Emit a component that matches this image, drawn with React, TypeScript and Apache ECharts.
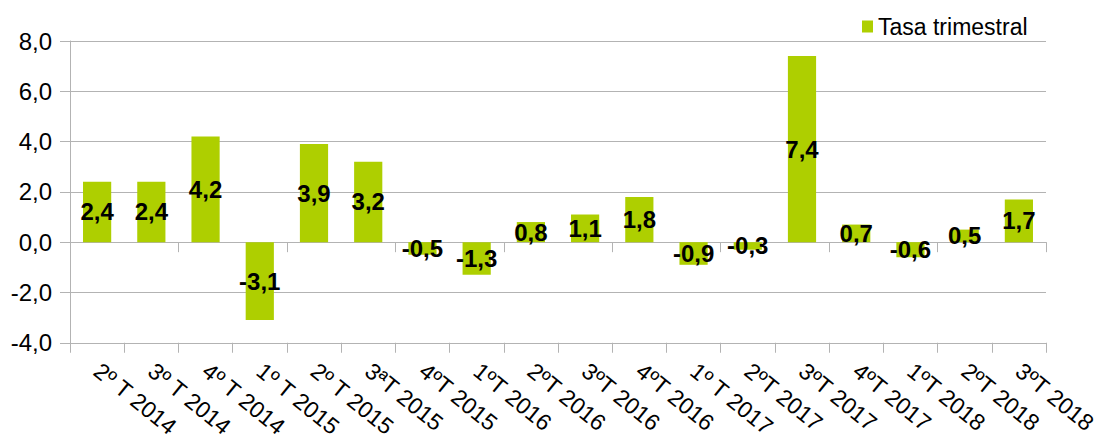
import React, { useEffect, useRef } from "react";
import * as echarts from "echarts";

const categories = [
  "2º T 2014", "3º T 2014", "4º T 2014", "1º T 2015", "2º T 2015", "3ªT 2015",
  "4ºT 2015", "1ºT 2016", "2ºT 2016", "3ºT 2016", "4ºT 2016", "1º T 2017",
  "2ºT 2017", "3ºT 2017", "4ºT 2017", "1ºT 2018", "2ºT 2018", "3ºT 2018",
];
const tasaTrimestral = [2.4, 2.4, 4.2, -3.1, 3.9, 3.2, -0.5, -1.3, 0.8, 1.1, 1.8, -0.9, -0.3, 7.4, 0.7, -0.6, 0.5, 1.7];
const seriesName = "Tasa trimestral";

const GREY = "#b3b3b3";
const GREEN = "#aecf00";
const FONT = "'Liberation Sans', Arial, sans-serif";
const fmt = (v: number) => v.toFixed(1).replace(".", ",");

export default function App() {
  const ref = useRef<HTMLDivElement>(null);
  useEffect(() => {
    if (!ref.current) return;
    const chart = echarts.init(ref.current, null, { renderer: "svg" });
    chart.setOption({
      animation: false,
      textStyle: { fontFamily: FONT },
      legend: {
        show: true,
        left: 857,
        top: 10,
        itemWidth: 11,
        itemHeight: 12,
        itemGap: 8,
        icon: "rect",
        textStyle: { fontSize: 23, color: "#000", fontFamily: FONT },
        data: [seriesName],
      },
      grid: { left: 70, right: 55, top: 41, bottom: 98, containLabel: false },
      xAxis: [
        {
          type: "category",
          data: categories,
          position: "bottom",
          axisLine: { show: true, onZero: false, lineStyle: { color: GREY } },
          axisTick: { show: true, length: 10, alignWithLabel: false, lineStyle: { color: GREY } },
          axisLabel: {
            rotate: -39,
            margin: 25,
            fontSize: 23,
            color: "#000",
            fontFamily: FONT,
            interval: 0,
          },
          splitLine: { show: false },
        },
        {
          type: "category",
          data: categories,
          position: "top",
          axisLine: { show: true, onZero: true, lineStyle: { color: GREY } },
          axisTick: { show: true, inside: true, length: 10, alignWithLabel: false, lineStyle: { color: GREY } },
          axisLabel: { show: false },
          splitLine: { show: false },
        },
      ],
      yAxis: {
        type: "value",
        min: -4,
        max: 8,
        interval: 2,
        axisLine: { show: true, lineStyle: { color: GREY } },
        axisTick: { show: true, length: 10, lineStyle: { color: GREY } },
        axisLabel: {
          margin: 18,
          fontSize: 24,
          color: "#000",
          fontFamily: FONT,
          formatter: (v: number) => fmt(v),
        },
        splitLine: { show: true, lineStyle: { color: GREY, width: 1 } },
      },
      series: [
        {
          name: seriesName,
          type: "bar",
          xAxisIndex: 0,
          data: tasaTrimestral,
          barWidth: "52%",
          itemStyle: { color: GREEN },
          label: {
            show: true,
            position: "inside",
            fontSize: 24,
            fontWeight: "bold",
            color: "#000",
            fontFamily: FONT,
            formatter: (p: any) => fmt(p.value),
          },
        },
      ],
    });
    return () => chart.dispose();
  }, []);
  return (
    <div
      ref={ref}
      style={{ position: "fixed", left: 0, top: 0, width: 1101, height: 441, background: "#fff" }}
    />
  );
}
